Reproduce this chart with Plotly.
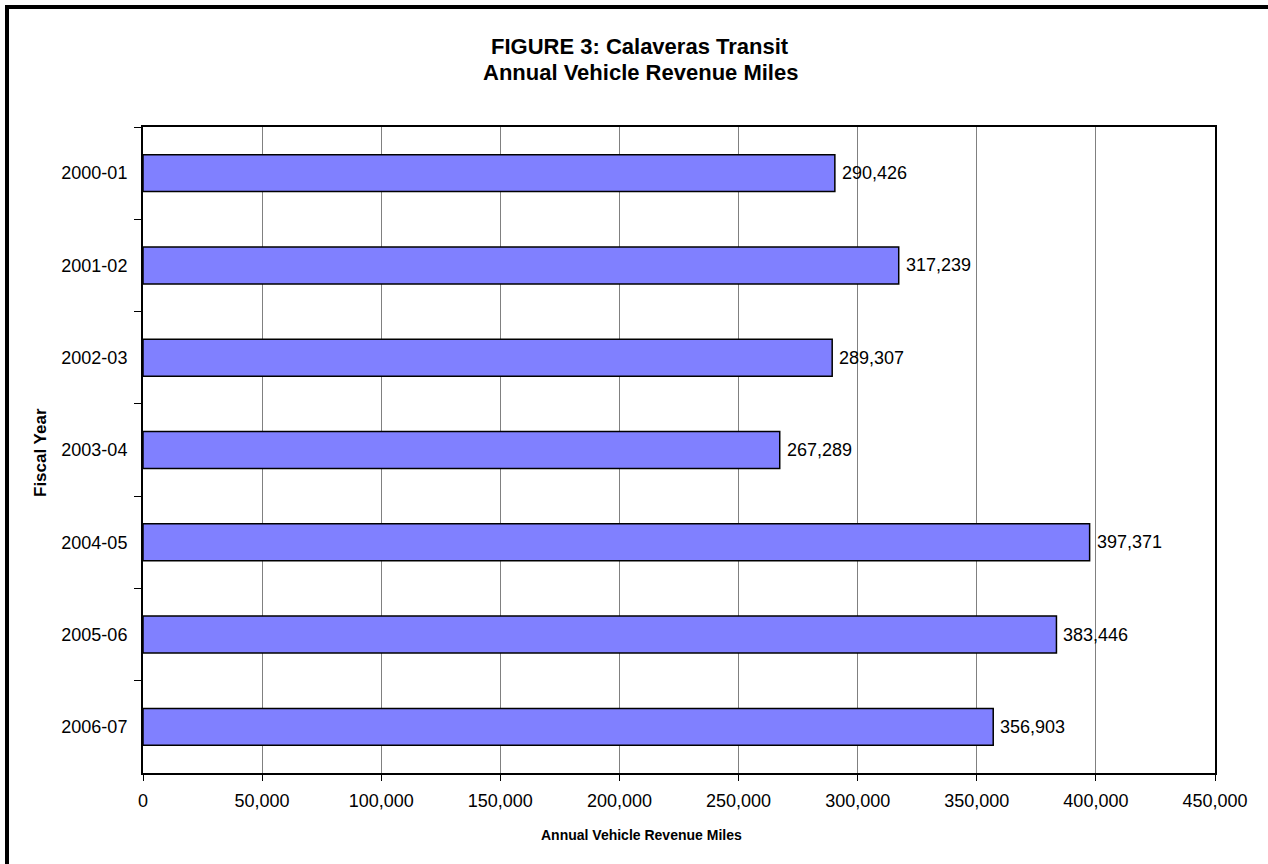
import plotly.graph_objects as go

# Calaveras Transit annual vehicle revenue miles by fiscal year
fiscal_years = ["2000-01", "2001-02", "2002-03", "2003-04", "2004-05", "2005-06", "2006-07"]
revenue_miles = [290426, 317239, 289307, 267289, 397371, 383446, 356903]
x_ticks = [0, 50000, 100000, 150000, 200000, 250000, 300000, 350000, 400000, 450000]

W, H = 1268, 864
ML, MR, MT, MB = 143, 53, 127, 91
PW, PH = W - ML - MR, H - MT - MB

def px_x(px):
    return (px - ML) / PW

def px_y(py):
    return (H - MB - py) / PH

FONT = "Arial, Liberation Sans, sans-serif"

fig = go.Figure(
    go.Bar(
        x=revenue_miles,
        y=fiscal_years,
        orientation="h",
        marker=dict(color="#8080FF", line=dict(color="black", width=1.5)),
        hoverinfo="skip",
    )
)

# value labels just to the right of each bar end
value_labels = [
    dict(
        text=f"{v:,}",
        x=v, y=cat,
        xref="x", yref="y",
        xanchor="left", yanchor="middle",
        xshift=5,
        showarrow=False,
        font=dict(family=FONT, size=18, color="black"),
    )
    for cat, v in zip(fiscal_years, revenue_miles)
]

fig.update_layout(
    width=W,
    height=H,
    margin=dict(l=ML, r=MR, t=MT, b=MB),
    paper_bgcolor="white",
    plot_bgcolor="white",
    bargap=0.6,
    showlegend=False,
    font=dict(family=FONT, color="black", size=18),
    xaxis=dict(
        range=[0, 450000],
        tickvals=x_ticks,
        tickformat=",",
        showgrid=True,
        gridcolor="#808080",
        gridwidth=1,
        showline=True,
        linecolor="black",
        linewidth=2,
        mirror=True,
        ticks="outside",
        ticklen=6,
        tickcolor="black",
        ticklabelstandoff=4,
        tickfont=dict(family=FONT, size=18, color="black"),
        zeroline=False,
        fixedrange=True,
    ),
    yaxis=dict(
        type="category",
        categoryorder="array",
        categoryarray=fiscal_years,
        autorange="reversed",
        showgrid=False,
        showline=True,
        linecolor="black",
        linewidth=2,
        mirror=True,
        ticks="outside",
        tickson="boundaries",
        ticklen=7,
        tickcolor="black",
        ticklabelstandoff=10,
        tickfont=dict(family=FONT, size=18, color="black"),
        fixedrange=True,
    ),
    annotations=value_labels + [
        dict(
            text="<b>FIGURE 3: Calaveras Transit</b>",
            xref="paper", yref="paper",
            x=px_x(640), y=px_y(47),
            xanchor="center", yanchor="middle",
            showarrow=False,
            font=dict(family=FONT, size=22, color="black"),
        ),
        dict(
            text="<b>Annual Vehicle Revenue Miles</b>",
            xref="paper", yref="paper",
            x=px_x(640), y=px_y(73),
            xanchor="center", yanchor="middle",
            showarrow=False,
            font=dict(family=FONT, size=22, color="black"),
        ),
        dict(
            text="<b>Annual Vehicle Revenue Miles</b>",
            xref="paper", yref="paper",
            x=px_x(641), y=px_y(835),
            xanchor="center", yanchor="middle",
            showarrow=False,
            font=dict(family=FONT, size=14, color="black"),
        ),
        dict(
            text="<b>Fiscal Year</b>",
            xref="paper", yref="paper",
            x=px_x(40), y=px_y(453),
            xanchor="center", yanchor="middle",
            textangle=-90,
            showarrow=False,
            font=dict(family=FONT, size=17, color="black"),
        ),
    ],
    shapes=[
        # figure frame: left and top edges visible, right/bottom run off the page
        dict(
            type="rect",
            xref="paper", yref="paper",
            x0=px_x(7), x1=px_x(W + 20),
            y0=px_y(H + 20), y1=px_y(7),
            line=dict(color="black", width=4),
            fillcolor="rgba(0,0,0,0)",
            layer="above",
        )
    ],
)

fig.write_html("out.html")
